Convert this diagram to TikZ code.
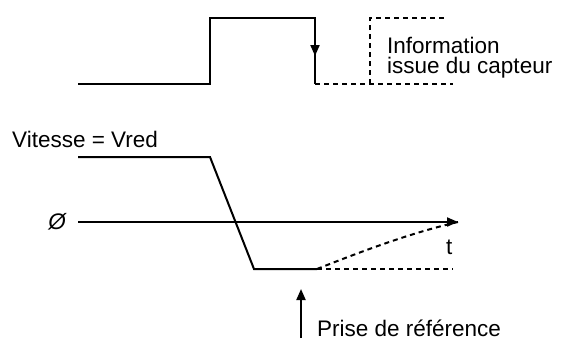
\documentclass[tikz,border=0pt]{standalone}
\usepackage{fontspec}
\setmainfont{Liberation Sans}
\usetikzlibrary{arrows.meta}
\begin{document}
\begin{tikzpicture}[x=1pt,y=-1pt,
  sig/.style={line width=2pt},
  dsig/.style={line width=2pt,dash pattern=on 5pt off 4pt},
  arr/.style={line width=2pt,-{Triangle[length=11pt,width=9pt]}},
  lbl/.style={font=\fontsize{22.5}{20}\selectfont,inner sep=0pt}
]
\useasboundingbox (0,0) rectangle (562,340);
% top signal
\coordinate (s0) at (78,84);
\coordinate (s1) at (210,84);
\coordinate (s2) at (210,18);
\coordinate (s3) at (315,18);
\coordinate (s4) at (315,56);
\coordinate (s5) at (315,84);
\coordinate (s6) at (453,84);
\coordinate (b0) at (370,84);
\coordinate (b1) at (370,18);
\coordinate (b2) at (444,18);
\draw[sig,line join=miter] (s0) -- (s1) -- (s2) -- (s3) -- (s5);
\draw[arr] (s3) -- (s4);
\draw[dsig] (s5) -- (s6);
\draw[dsig] (b0) -- (b1) -- (b2);
\node[lbl,anchor=base west,align=left] (info) at (387,73) {Information\\issue du capteur};
% bottom
\node[lbl,anchor=base west] (vit) at (12,147) {Vitesse = Vred};
\coordinate (v0) at (78,157);
\coordinate (v1) at (210,157);
\coordinate (v2) at (254,269);
\coordinate (v3) at (317,269);
\coordinate (v4) at (453,269);
\draw[sig,line join=miter] (v0) -- (v1) -- (v2) -- (v3);
\draw[dsig] (v3) -- (v4);
\node[lbl] (zero) at (57,222) {\itshape Ø};
\coordinate (a0) at (78,222);
\coordinate (a1) at (458,222);
\draw[arr] (a0) -- (a1);
\draw[dsig] (v3) .. controls (360,252) and (410,233) .. (a1);
\node[lbl,anchor=base west] (t) at (446,254) {t};
\coordinate (p0) at (301,338);
\coordinate (p1) at (301,289);
\draw[arr] (p0) -- (p1);
\node[lbl,anchor=base west] (prise) at (317,336) {Prise de référence};
\end{tikzpicture}
\end{document}
